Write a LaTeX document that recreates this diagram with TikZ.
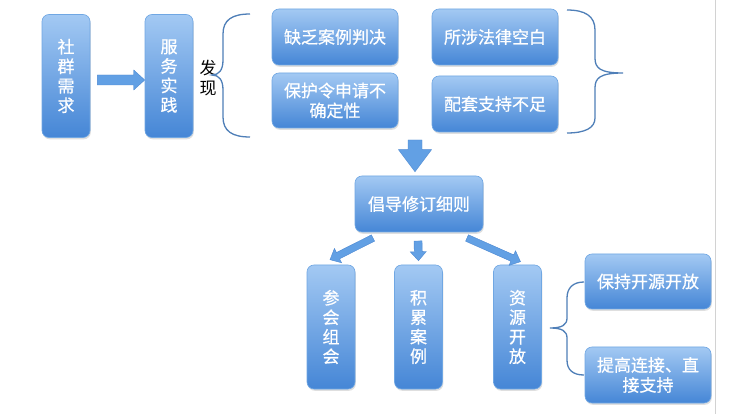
\documentclass[tikz,border=0pt]{standalone}
\usepackage{fontspec}
\newfontfamily\cjk[FakeBold=0.6]{Noto Sans CJK SC}
\newfontfamily\cjkblack{Noto Sans CJK SC}
\usetikzlibrary{calc,shadows}
\definecolor{btop}{HTML}{A3C9F3}
\definecolor{bbot}{HTML}{4586D6}
\definecolor{bline}{HTML}{70A7E3}
\definecolor{bracec}{HTML}{4F7FB8}
\definecolor{arrowc}{HTML}{62A0E4}
\definecolor{arrowl}{HTML}{4C88D2}
\tikzset{
 box/.style={rounded corners=7pt, top color=btop, bottom color=bbot, draw=bline,
   line width=0.6pt, text=white, align=center, inner sep=0pt,
   font=\cjk\fontsize{17}{20}\selectfont,
   drop shadow={opacity=0.25, shadow xshift=0.8pt, shadow yshift=-1.8pt}},
 vbox/.style={box, minimum width=48pt, minimum height=123pt, font=\cjk\fontsize{17}{19.5}\selectfont},
 hbox/.style={box, minimum width=126pt, minimum height=56pt},
 bracestyle/.style={draw=bracec, line width=1.3pt},
 barrow/.style={fill=arrowc, draw=arrowl, line width=0.4pt},
}
\newcommand\blockarrow[5]{%
 \coordinate (ba-hb) at ($(#2)!#5!(#1)$);
 \path[barrow] ($(#1)!#3!90:(#2)$) -- ($(ba-hb)!#3!90:(#2)$) -- ($(ba-hb)!#4!90:(#2)$)
   -- (#2) -- ($(ba-hb)!#4!-90:(#2)$) -- ($(ba-hb)!#3!-90:(#2)$) -- ($(#1)!#3!-90:(#2)$) -- cycle;}
\begin{document}
\begin{tikzpicture}[x=1pt,y=-1pt]
\useasboundingbox (0,0) rectangle (753,414);
\fill[white] (0,0) rectangle (753,414);
\draw[gray!35, line width=0.8pt] (715,0) -- (715,414);

% boxes
\node[vbox] (A) at (66,76) {社\\群\\需\\求};
\node[vbox] (B) at (169,76) {服\\务\\实\\践};
\node[hbox] (C1) at (335,37) {缺乏案例判决};
\node[hbox, minimum height=55pt] (C2) at (335,100.5) {保护令申请不\\确定性};
\node[hbox] (C3) at (495,37) {所涉法律空白};
\node[hbox] (C4) at (495,104) {配套支持不足};
\node[hbox, minimum width=128pt] (D) at (419,204) {倡导修订细则};
\node[vbox, minimum height=124pt] (E1) at (331,327) {参\\会\\组\\会};
\node[vbox, minimum height=124pt] (E2) at (418.5,327) {积\\累\\案\\例};
\node[vbox, minimum height=124pt] (E3) at (517.5,327) {资\\源\\开\\放};
\node[hbox, minimum height=55pt] (F1) at (648,281.5) {保持开源开放};
\node[hbox] (F2) at (648,375) {提高连接、直\\接支持};

\node[font=\cjkblack\fontsize{17}{20}\selectfont, align=center, inner sep=0pt] (fx) at (208,78) {发\\现};

% braces
\draw[bracestyle] (250,14) .. controls (232,14) and (223,20) .. (223,34) -- (223,60)
  .. controls (223,70) and (219,75) .. (212,75)
  .. controls (219,75) and (223,80) .. (223,90) -- (223,117)
  .. controls (223,131) and (232,137) .. (250,137);
\draw[bracestyle] (567,10) .. controls (585,10) and (595,16) .. (595,30) -- (595,58)
  .. controls (595,68) and (600,73) .. (623,73)
  .. controls (600,73) and (595,78) .. (595,88) -- (595,118)
  .. controls (595,128) and (585,133) .. (567,133);
\draw[bracestyle] (584,282) .. controls (573,282) and (567,288) .. (567,298) -- (567,318)
  .. controls (567,325) and (562,328) .. (550,328)
  .. controls (562,328) and (567,331) .. (567,338) -- (567,360)
  .. controls (567,370) and (573,375) .. (584,375);

% arrows
\coordinate (a1s) at ($(A.east)+(7,4)$);
\coordinate (a1e) at ($(B.west)+(0,4)$);
\blockarrow{a1s}{a1e}{5pt}{10pt}{11pt}
\coordinate (a2s) at (415,140);
\coordinate (a2e) at ($(D.north)+(-4,-4)$);
\blockarrow{a2s}{a2e}{7pt}{16.5pt}{22pt}
\coordinate (a3s) at (373,238);
\coordinate (a3e) at ($(E1.north)+(-1,-5)$);
\blockarrow{a3s}{a3e}{3.5pt}{8pt}{9pt}
\coordinate (a4s) at (418,241);
\coordinate (a4e) at ($(E2.north)+(0,-4)$);
\blockarrow{a4s}{a4e}{4pt}{8pt}{9pt}
\coordinate (a5s) at (467,238);
\coordinate (a5e) at ($(E3.north)+(3,-3)$);
\blockarrow{a5s}{a5e}{3.5pt}{8pt}{9pt}
\end{tikzpicture}
\end{document}
